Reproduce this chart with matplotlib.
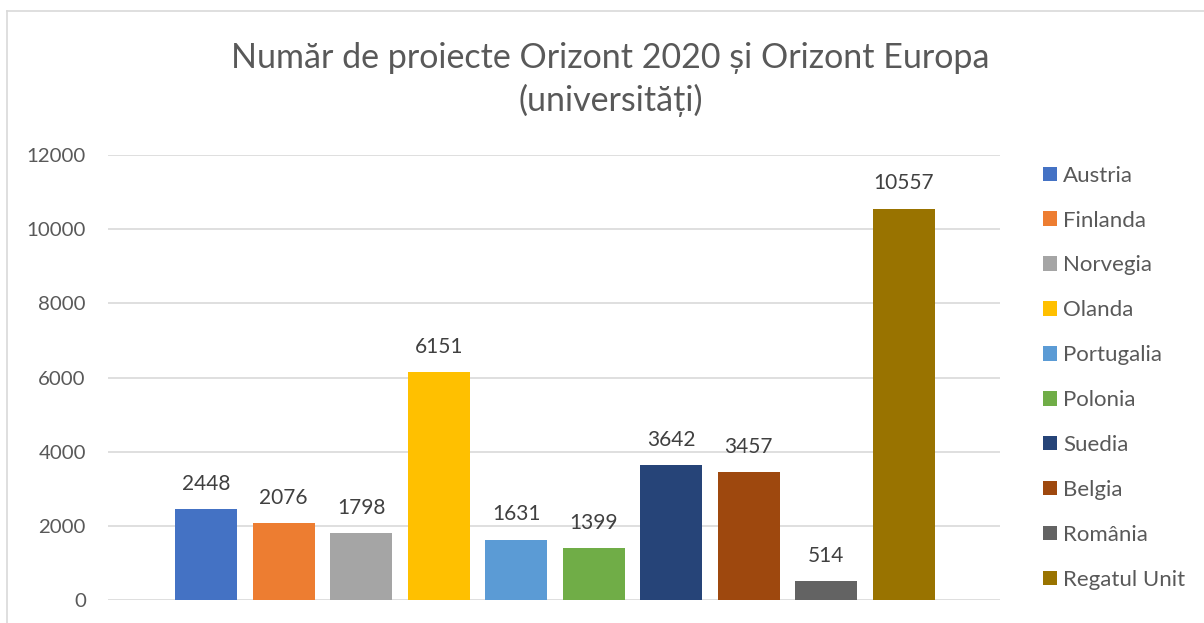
import matplotlib.pyplot as plt
from matplotlib.lines import Line2D

countries = ['Austria', 'Finlanda', 'Norvegia', 'Olanda', 'Portugalia',
             'Polonia', 'Suedia', 'Belgia', 'România', 'Regatul Unit']
projects = [2448, 2076, 1798, 6151, 1631, 1399, 3642, 3457, 514, 10557]
colors = ['#4472C4', '#ED7D31', '#A5A5A5', '#FFC000', '#5B9BD5',
          '#70AD47', '#264478', '#9E480E', '#636363', '#997300']
yticks = [0, 2000, 4000, 6000, 8000, 10000, 12000]

txt = '#595959'
plt.rcParams['font.family'] = ['Lato', 'DejaVu Sans']

fig = plt.figure(figsize=(12.04, 6.23), dpi=100)
ax = fig.add_axes([0.0897, 0.0369, 0.7409, 0.7143])

x = list(range(len(countries)))
bars = ax.bar(x, projects, width=0.8, color=colors, label=countries, zorder=2)
for b, v in zip(bars, projects):
    ax.annotate(str(v), (b.get_x() + b.get_width() / 2, v), xytext=(0, 11),
                textcoords='offset points', ha='center', va='bottom',
                fontsize=15, color='#404040')

ax.set_xlim(-1.265, 10.24)
ax.set_ylim(0, 12000)
ax.set_yticks(yticks)
ax.set_xticks([])
ax.tick_params(axis='y', length=0, pad=16, labelsize=14.7, labelcolor=txt)
ax.grid(axis='y', color='#D9D9D9', linewidth=1.2, zorder=0)
for s in ax.spines.values():
    s.set_visible(False)

fig.text(0.507, 0.872, 'Număr de proiecte Orizont 2020 și Orizont Europa\n(universități)',
         ha='center', va='center', fontsize=24.5, color=txt, linespacing=1.38)

leg = fig.legend(handles=bars.patches, labels=countries, loc='upper left',
                 bbox_to_anchor=(0.857, 0.752), frameon=False, fontsize=16,
                 labelcolor=txt, handlelength=0.63, handleheight=0.63,
                 handletextpad=0.27, labelspacing=1.12, borderpad=0)

# outer chart border (top and left edges visible)
fig.add_artist(Line2D([7 / 1204, 1], [1 - 11 / 623, 1 - 11 / 623],
                      color='#D9D9D9', linewidth=1.2, transform=fig.transFigure))
fig.add_artist(Line2D([7 / 1204, 7 / 1204], [0, 1 - 11 / 623],
                      color='#D9D9D9', linewidth=1.2, transform=fig.transFigure))

fig.savefig('out.png', dpi=100)
